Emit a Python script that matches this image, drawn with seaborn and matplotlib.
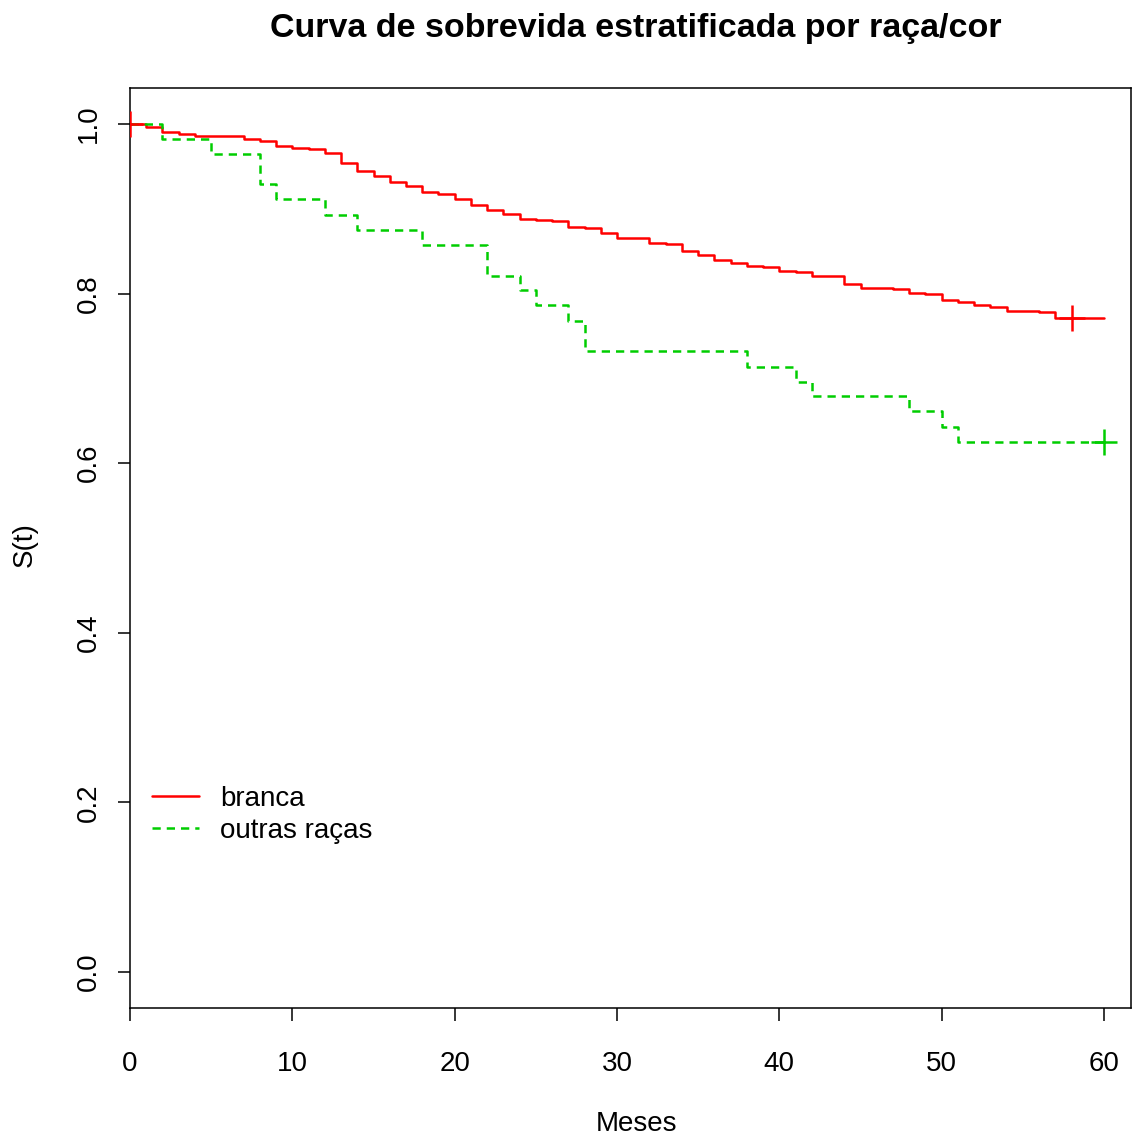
import numpy as np
import pandas as pd
import matplotlib
matplotlib.use("Agg")
import matplotlib.pyplot as plt
import seaborn as sns

# Kaplan-Meier estimates, stratified by race/colour
branca_t = [0, 1, 2, 3, 4, 7, 8, 9, 10, 11, 12, 13, 14, 15, 16, 17, 18, 19, 20,
            21, 22, 23, 24, 25, 26, 27, 28, 29, 30, 31, 32, 33, 34, 35, 36, 37,
            38, 39, 40, 41, 42, 44, 45, 47, 48, 49, 50, 51, 52, 53, 54, 56, 57, 60]
branca_s = [1.000, 0.997, 0.990, 0.988, 0.986, 0.982, 0.980, 0.974, 0.972, 0.970,
            0.966, 0.954, 0.945, 0.939, 0.931, 0.927, 0.920, 0.917, 0.912, 0.904,
            0.899, 0.894, 0.888, 0.887, 0.885, 0.879, 0.877, 0.872, 0.866, 0.865,
            0.860, 0.858, 0.850, 0.846, 0.840, 0.836, 0.833, 0.831, 0.827, 0.825,
            0.821, 0.811, 0.807, 0.805, 0.801, 0.799, 0.793, 0.790, 0.786, 0.784,
            0.779, 0.778, 0.771, 0.771]
branca_cens_t = [0, 58]
branca_cens_s = [1.000, 0.771]

outras_t = [0, 2, 5, 8, 9, 12, 14, 18, 22, 24, 25, 27, 28, 38, 41, 42, 48, 50, 51, 60]
outras_s = [1.000, 0.982, 0.964, 0.929, 0.911, 0.893, 0.875, 0.857, 0.821, 0.804,
            0.786, 0.768, 0.732, 0.714, 0.696, 0.679, 0.661, 0.643, 0.625, 0.625]
outras_cens_t = [60]
outras_cens_s = [0.625]

labels = ["branca", "outras raças"]
x_ticks = [0, 10, 20, 30, 40, 50, 60]
y_ticks = [0.0, 0.2, 0.4, 0.6, 0.8, 1.0]

RED = "#FF0000"
GREEN = "#00CD00"

sns.set_theme(style="ticks")
plt.rcParams["font.family"] = ["Liberation Sans", "DejaVu Sans"]
plt.rcParams["axes.edgecolor"] = "black"
plt.rcParams["xtick.color"] = "black"
plt.rcParams["ytick.color"] = "black"
plt.rcParams["text.color"] = "black"
plt.rcParams["axes.labelcolor"] = "black"

W, H = 1133, 1141
fig = plt.figure(figsize=(W / 100, H / 100), dpi=100)
left, right, top, bottom = 130, 1131, 88, 1008
ax = fig.add_axes([left / W, 1 - bottom / H, (right - left) / W, (bottom - top) / H])

df_b = pd.DataFrame({"t": branca_t, "s": branca_s})
df_o = pd.DataFrame({"t": outras_t, "s": outras_s})

sns.lineplot(data=df_b, x="t", y="s", ax=ax, color=RED, linewidth=1.8,
             drawstyle="steps-post", errorbar=None, label=labels[0])
sns.lineplot(data=df_o, x="t", y="s", ax=ax, color=GREEN, linewidth=1.8,
             linestyle=(0, (3.3, 2.4)), drawstyle="steps-post", errorbar=None,
             label=labels[1])

# censoring marks
sns.scatterplot(x=branca_cens_t, y=branca_cens_s, ax=ax, marker="+", s=330,
                color=RED, linewidth=1.8, legend=False, zorder=3)
sns.scatterplot(x=outras_cens_t, y=outras_cens_s, ax=ax, marker="+", s=330,
                color=GREEN, linewidth=1.8, legend=False, zorder=3)

ax.set_xlim(0, 61.66)
ax.set_ylim(-0.0424, 1.0424)
ax.set_xticks(x_ticks)
ax.set_xticklabels([str(v) for v in x_ticks])
ax.set_yticks(y_ticks)
ax.set_yticklabels([f"{v:.1f}" for v in y_ticks])

for sp in ax.spines.values():
    sp.set_visible(True)
    sp.set_linewidth(1.1)
    sp.set_color("black")

ax.tick_params(axis="both", direction="out", length=9, width=1.1, labelsize=20)
ax.tick_params(axis="x", pad=22)
ax.tick_params(axis="y", pad=11)
for lab in ax.get_yticklabels():
    lab.set_rotation(90)
    lab.set_va("center")

ax.set_xlabel("Meses", fontsize=20)
ax.set_ylabel("S(t)", fontsize=20)
ax.xaxis.set_label_coords((637 - left) / (right - left), (bottom - 1124) / (bottom - top))
ax.xaxis.label.set_va("center")
ax.yaxis.set_label_coords((25 - left) / (right - left), (bottom - 545) / (bottom - top))
ax.yaxis.label.set_va("center")

fig.text(636 / W, 1 - 29 / H, "Curva de sobrevida estratificada por raça/cor",
         ha="center", va="center", fontsize=24.5, fontweight="bold")

leg = ax.legend(loc="upper left",
                bbox_to_anchor=((152 - left) / (right - left), (bottom - 786) / (bottom - top)),
                frameon=False, fontsize=20, handlelength=1.7, handletextpad=0.75,
                labelspacing=0.2, borderaxespad=0, borderpad=0)

fig.savefig("out.png", dpi=100, facecolor="white")
